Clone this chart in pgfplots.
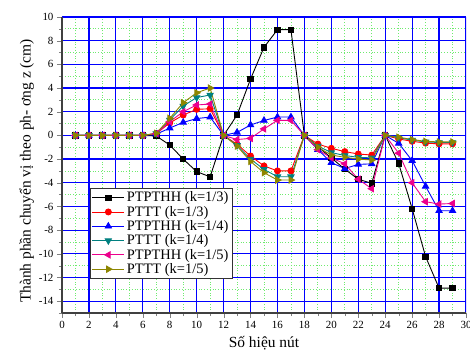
\documentclass[border=0pt]{standalone}
\usepackage{pgfplots}
\pgfplotsset{compat=1.18}
\usepackage{pgfplotstable}
\usepackage{fontspec}
\setmainfont{Liberation Serif}
\pgfplotstableread{
x  a      b      c      d      e      f
1  0      0      0      0      0      0
2  0      0      0      0      0      0
3  0      0      0      0      0      0
4  0      0      0      0      0      0
5  0      0      0      0      0      0
6  0      0      0      0      0      0
7  -0.05  0.15   0.10   0.15   0.15   0.18
8  -0.81  1.05   0.62   1.30   1.16   1.44
9  -2.00  1.72   1.10   2.48   2.00   2.76
10 -3.06  2.20   1.42   3.20   2.57   3.60
11 -3.50  2.25   1.55   3.41   2.65   4.00
12 0      0      0      0      0      0
13 1.72   -0.75  0.25   -0.85  -0.35  -0.90
14 4.76   -1.74  0.88   -2.00  -0.25  -2.20
15 7.44   -2.58  1.26   -2.87  0.55   -3.15
16 8.93   -3.00  1.55   -3.49  1.27   -3.77
17 8.93   -3.00  1.55   -3.49  1.27   -3.77
18 0      0      0      0      0      0
19 -0.95  -0.73  -1.20  -0.90  -1.20  -1.00
20 -1.90  -1.09  -2.30  -1.45  -1.90  -1.66
21 -2.85  -1.37  -2.80  -1.70  -2.40  -1.85
22 -3.70  -1.57  -2.45  -1.85  -3.70  -2.00
23 -4.05  -1.66  -2.40  -1.90  -4.50  -2.08
24 0      0      0      0      0      0
25 -2.36  -0.30  -0.67  -0.20  -1.50  -0.15
26 -6.19  -0.50  -2.13  -0.40  -4.00  -0.35
27 -10.24 -0.65  -4.30  -0.55  -5.60  -0.50
28 -12.90 -0.72  -6.36  -0.60  -5.80  -0.55
29 -12.90 -0.72  -6.36  -0.60  -5.75  -0.55
}\data
\definecolor{gridgreen}{RGB}{110,235,110}
\begin{document}
\begin{tikzpicture}
\useasboundingbox (-62bp,-47bp) rectangle (408bp,313bp);
\begin{axis}[
  scale only axis, width=404bp, height=296bp,
  at={(0,0)}, anchor=south west,
  xmin=0, xmax=30, ymin=-15, ymax=10,
  xtick={0,2,...,30}, ytick={-14,-12,...,10},
  minor xtick={1,3,...,29}, minor ytick={-15,-13,...,9},
  axis lines=left, axis line style={-, line width=1.2pt, black!75},
  tick align=outside,
  major tick length=5bp, minor tick length=3bp,
  axis on top,
  /pgf/number format/assume math mode=true,
  ticklabel style={font=\fontsize{11}{13}\selectfont},
  xlabel={Số hiệu nút},
  ylabel={Thành phần chuyển vị theo ph- ơng z (cm)},
  label style={font=\fontsize{15.5}{18}\selectfont},
  xlabel style={yshift=-1bp},
  ylabel style={yshift=-2bp, xshift=-6bp},
  legend style={at={(0.0693,0.4223)}, anchor=north west,
    font=\fontsize{14.5}{17}\selectfont, draw=black!80, line width=0.8pt,
    fill=white, inner sep=1.5pt, row sep=-1.2pt, cells={anchor=west}},
  legend cell align=left,
  legend image code/.code={\draw[mark repeat=2,mark phase=2] plot coordinates {(0bp,0bp) (16bp,0bp) (32bp,0bp)};},
  every axis plot/.append style={line width=0.9pt},
]
\pgfplotsinvokeforeach{1,3,...,29}{\draw[gridgreen, line width=0.8pt, dotted] (axis cs:#1,-15) -- (axis cs:#1,10);}
\pgfplotsinvokeforeach{-15,-13,...,9}{\draw[gridgreen, line width=0.8pt, dotted] (axis cs:0,#1) -- (axis cs:30,#1);}
\pgfplotsinvokeforeach{2,4,...,30}{\draw[blue, line width=1.2pt] (axis cs:#1,-15) -- (axis cs:#1,10);}
\pgfplotsinvokeforeach{-14,-12,...,10}{\draw[blue, line width=1.2pt] (axis cs:0,#1) -- (axis cs:30,#1);}
\addplot[black, mark=square*, mark size=2.7pt] table[x=x,y=a]{\data};
\addplot[red, mark=*, mark size=3pt] table[x=x,y=b]{\data};
\addplot[blue, mark=triangle*, mark size=3.6pt] table[x=x,y=c]{\data};
\addplot[teal, mark=triangle*, mark size=3.6pt, mark options={rotate=180}] table[x=x,y=d]{\data};
\addplot[magenta, mark=triangle*, mark size=3.6pt, mark options={rotate=90}] table[x=x,y=e]{\data};
\addplot[olive, mark=triangle*, mark size=3.6pt, mark options={rotate=-90}] table[x=x,y=f]{\data};
\legend{PTPTHH (k=1/3), PTTT (k=1/3), PTPTHH (k=1/4), PTTT (k=1/4), PTPTHH (k=1/5), PTTT (k=1/5)}
\end{axis}
\end{tikzpicture}
\end{document}
